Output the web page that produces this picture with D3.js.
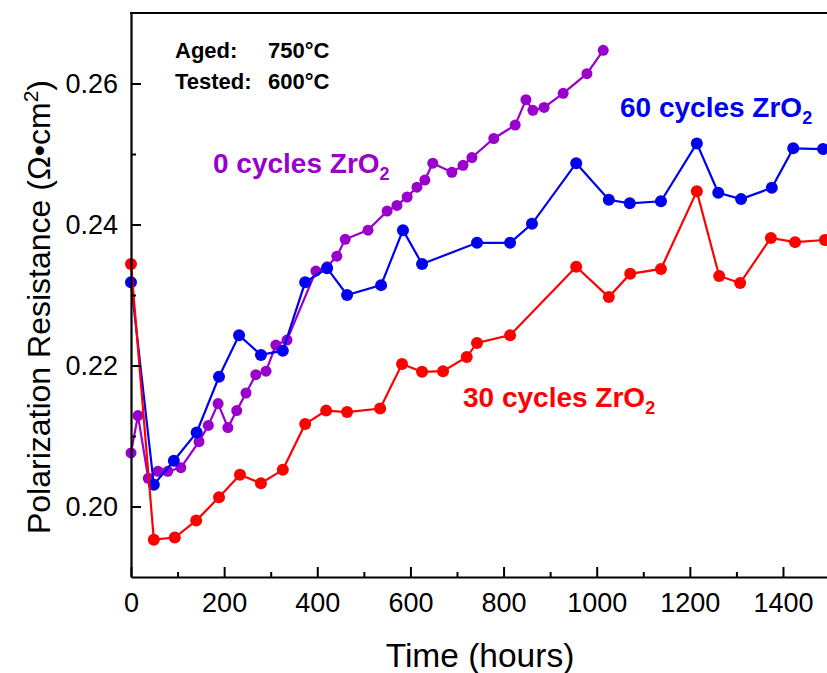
<!DOCTYPE html>
<html>
<head>
<meta charset="utf-8">
<script src="https://cdn.jsdelivr.net/npm/d3@7/dist/d3.min.js"></script>
<style>
  html, body { margin: 0; padding: 0; background: #fff; }
  svg { display: block; }
  text { font-family: "Liberation Sans", Arial, sans-serif; }
</style>
</head>
<body>
<svg id="chart" width="827" height="673"></svg>
<script>
// Polarization resistance vs. time, three ZrO2 coating levels
const hours0 = [0, 15, 37, 58, 79, 107, 146, 166, 187, 208, 227, 247, 268, 290, 311, 335,
  397, 421, 442, 460, 509, 550, 571, 593, 614, 631, 648, 689, 713, 732, 779, 825, 848, 863, 887, 928, 979, 1014];
const res0 = [0.2076, 0.2129, 0.2040, 0.2050, 0.2050, 0.2055, 0.2092, 0.2115, 0.2146, 0.2112, 0.2136, 0.2161,
  0.2187, 0.2192, 0.2229, 0.2236, 0.2334, 0.2340, 0.2355, 0.2379, 0.2392, 0.2419, 0.2427, 0.2439, 0.2453,
  0.2463, 0.2487, 0.2474, 0.2484, 0.2495, 0.2522, 0.2541, 0.2577, 0.2562, 0.2566, 0.2586, 0.2614, 0.2647];

const hours60 = [0, 49, 92, 141, 189, 232, 279, 326, 374, 421, 464, 537, 584, 625, 743, 814, 861, 956,
  1026, 1071, 1138, 1215, 1261, 1310, 1376, 1422, 1486];
const res60 = [0.2318, 0.2031, 0.2065, 0.2105, 0.2184, 0.2243, 0.2215, 0.2221, 0.2318, 0.2338, 0.2300,
  0.2314, 0.2392, 0.2344, 0.2374, 0.2374, 0.2401, 0.2487, 0.2435, 0.2430, 0.2433, 0.2515, 0.2445,
  0.2436, 0.2452, 0.2508, 0.2507];

const hours30 = [0, 49, 94, 140, 189, 234, 279, 326, 374, 419, 464, 535, 582, 625, 670, 721, 743, 814,
  956, 1026, 1072, 1138, 1215, 1263, 1308, 1374, 1426, 1490];
const res30 = [0.2344, 0.1953, 0.1956, 0.1980, 0.2013, 0.2045, 0.2033, 0.2052, 0.2117, 0.2136, 0.2134,
  0.2139, 0.2202, 0.2191, 0.2192, 0.2212, 0.2232, 0.2243, 0.2340, 0.2297, 0.2330, 0.2337, 0.2447,
  0.2327, 0.2317, 0.2381, 0.2375, 0.2378];

const xMajorTicks = [0, 200, 400, 600, 800, 1000, 1200, 1400];
const xMinorTicks = [100, 300, 500, 700, 900, 1100, 1300, 1500];
const yMajorTicks = [0.20, 0.22, 0.24, 0.26];
const yMinorTicks = [0.21, 0.23, 0.25];

const series = [
  { name: "0 cycles", x: hours0, y: res0, color: "#9a00cc", r: 5.5 },
  { name: "60 cycles", x: hours60, y: res60, color: "#0000f0", r: 6 },
  { name: "30 cycles", x: hours30, y: res30, color: "#ff0000", r: 6 }
];

const svg = d3.select("#chart");
const plotLeft = 131, plotTop = 13, plotBottom = 577;

const x = d3.scaleLinear().domain([0, 1500]).range([plotLeft, plotLeft + 1500 * 0.4657]);
const y = d3.scaleLinear().domain([0.19, 0.27]).range([plotBottom, plotTop]);

const tickFont = 27;

// Series lines and markers
const line = d3.line().x(d => x(d[0])).y(d => y(d[1]));
const plot = svg.append("g");
series.forEach(s => {
  const pts = s.x.map((t, i) => [t, s.y[i]]);
  plot.append("path")
    .datum(pts)
    .attr("d", line)
    .attr("fill", "none")
    .attr("stroke", s.color)
    .attr("stroke-width", 2.2);
  plot.selectAll(null)
    .data(pts)
    .enter().append("circle")
    .attr("cx", d => x(d[0]))
    .attr("cy", d => y(d[1]))
    .attr("r", s.r)
    .attr("fill", s.color);
});

// Axes with inward ticks
function styleAxis(g) {
  g.selectAll("path.domain").attr("stroke", "#000").attr("stroke-width", 2.2);
  g.selectAll(".tick line").attr("stroke", "#000").attr("stroke-width", 2);
  g.selectAll(".tick text").attr("font-size", tickFont).attr("fill", "#000")
    .attr("font-family", "'Liberation Sans', Arial, sans-serif");
}

const xAxis = svg.append("g").attr("transform", `translate(0,${plotBottom})`)
  .call(d3.axisBottom(x).tickValues(xMajorTicks).tickSizeInner(-10).tickSizeOuter(0)
    .tickPadding(16).tickFormat(d3.format("d")));
styleAxis(xAxis);
svg.append("g").attr("transform", `translate(0,${plotBottom})`)
  .call(d3.axisBottom(x).tickValues(xMinorTicks).tickSizeInner(-5).tickSizeOuter(0).tickFormat(""))
  .call(g => { g.select("path.domain").remove(); styleAxis(g); });

const yAxis = svg.append("g").attr("transform", `translate(${plotLeft},0)`)
  .call(d3.axisLeft(y).tickValues(yMajorTicks).tickSizeInner(-10).tickSizeOuter(0)
    .tickPadding(13).tickFormat(d3.format(".2f")));
styleAxis(yAxis);
svg.append("g").attr("transform", `translate(${plotLeft},0)`)
  .call(d3.axisLeft(y).tickValues(yMinorTicks).tickSizeInner(-5).tickSizeOuter(0).tickFormat(""))
  .call(g => { g.select("path.domain").remove(); styleAxis(g); });

// Top frame line
svg.append("line")
  .attr("x1", plotLeft - 1).attr("x2", x(1500)).attr("y1", plotTop).attr("y2", plotTop)
  .attr("stroke", "#000").attr("stroke-width", 2.2);

// Axis titles
svg.append("text")
  .attr("x", 480).attr("y", 667)
  .attr("text-anchor", "middle")
  .attr("font-size", 33.5)
  .text("Time (hours)");

const yTitle = svg.append("text")
  .attr("transform", "translate(50,307) rotate(-90)")
  .attr("text-anchor", "middle")
  .attr("font-size", 32);
yTitle.append("tspan").text("Polarization Resistance (Ω•cm");
yTitle.append("tspan").attr("font-size", 21).attr("dy", -12).text("2");
yTitle.append("tspan").attr("dy", 12).text(")");

// Conditions
const cond = svg.append("g").attr("font-weight", "bold").attr("font-size", 22).attr("fill", "#000");
cond.append("text").attr("x", 175).attr("y", 58).text("Aged:");
cond.append("text").attr("x", 268).attr("y", 58).text("750°C");
cond.append("text").attr("x", 175).attr("y", 89).text("Tested:");
cond.append("text").attr("x", 268).attr("y", 89).text("600°C");

// Series labels
function seriesLabel(px, py, prefix, color) {
  const t = svg.append("text")
    .attr("x", px).attr("y", py)
    .attr("font-weight", "bold").attr("font-size", 28).attr("fill", color);
  t.append("tspan").text(prefix + " cycles ZrO");
  t.append("tspan").attr("font-size", 18).attr("dy", 7).text("2");
}
seriesLabel(213, 173, "0", "#9a00cc");
seriesLabel(620, 117, "60", "#0000f0");
seriesLabel(463, 407, "30", "#ff0000");
</script>
</body>
</html>
